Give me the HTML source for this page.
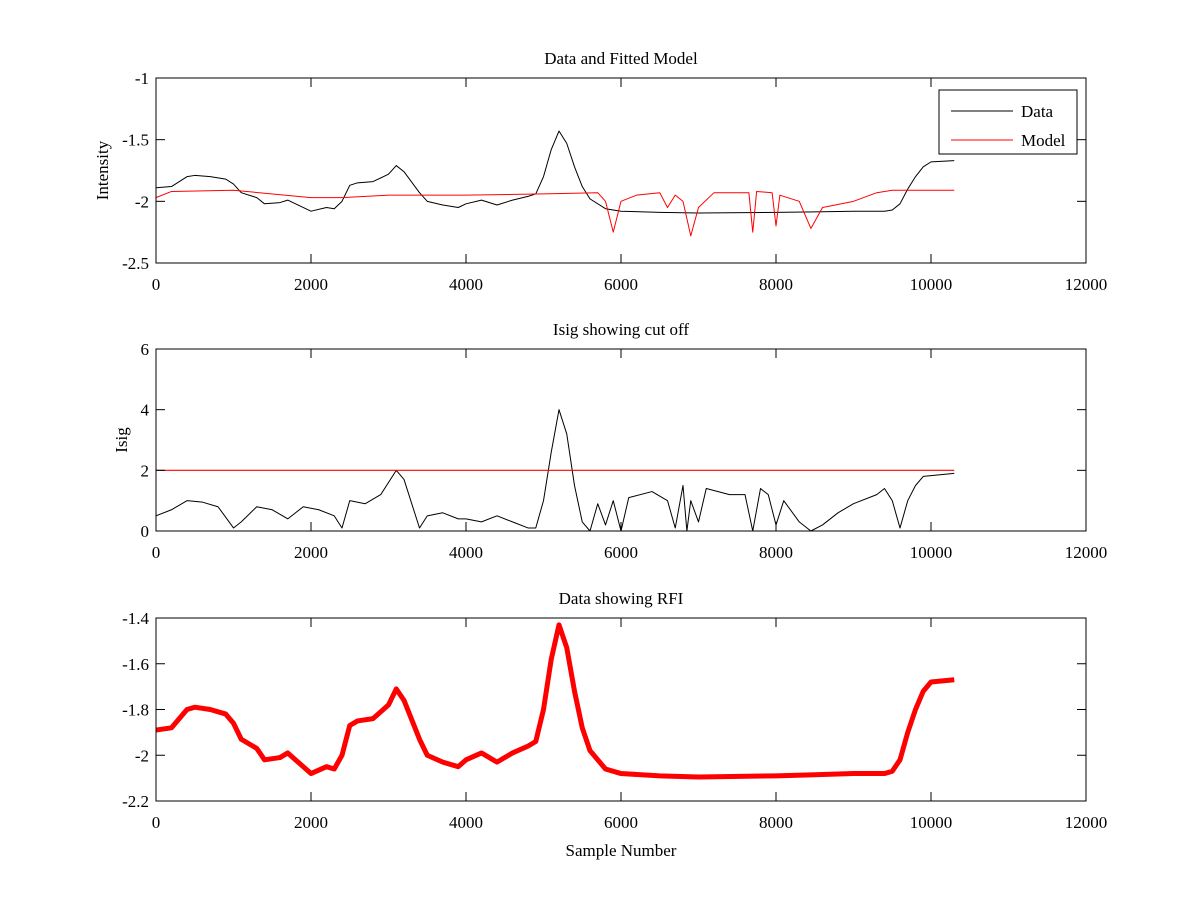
<!DOCTYPE html>
<html><head><meta charset="utf-8"><style>
body{margin:0;background:#fff}
svg text{font-family:"Liberation Serif",serif;font-size:17px;fill:#000}
</style></head><body>
<svg id="c" width="1200" height="900" xmlns="http://www.w3.org/2000/svg"></svg>
<script>
const dataX=[0,200,400,500,700,900,1000,1100,1300,1400,1600,1700,1800,2000,2200,2300,2400,2500,2600,2800,3000,3100,3200,3400,3500,3700,3900,4000,4200,4400,4600,4800,4900,5000,5100,5200,5300,5400,5500,5600,5800,6000,6500,7000,8000,8500,9000,9400,9500,9600,9700,9800,9900,10000,10300];
const dataY=[-1.89,-1.88,-1.80,-1.79,-1.80,-1.82,-1.86,-1.93,-1.97,-2.02,-2.01,-1.99,-2.02,-2.08,-2.05,-2.06,-2.00,-1.87,-1.85,-1.84,-1.78,-1.71,-1.76,-1.93,-2.00,-2.03,-2.05,-2.02,-1.99,-2.03,-1.99,-1.96,-1.94,-1.80,-1.58,-1.43,-1.53,-1.72,-1.88,-1.98,-2.06,-2.08,-2.09,-2.095,-2.09,-2.085,-2.08,-2.08,-2.07,-2.02,-1.90,-1.80,-1.72,-1.68,-1.67];
const modelX=[0,200,1000,2000,2400,3000,4000,5000,5700,5800,5900,6000,6200,6500,6600,6700,6800,6900,7000,7200,7650,7700,7750,7950,8000,8050,8300,8450,8600,9000,9300,9500,10300];
const modelY=[-1.97,-1.92,-1.91,-1.97,-1.97,-1.95,-1.95,-1.94,-1.93,-2.0,-2.25,-2.0,-1.95,-1.93,-2.05,-1.95,-2.0,-2.28,-2.05,-1.93,-1.93,-2.25,-1.92,-1.93,-2.2,-1.95,-2.0,-2.22,-2.05,-2.0,-1.93,-1.91,-1.91];
const isigX=[0,200,400,600,800,1000,1100,1300,1500,1700,1900,2100,2300,2400,2500,2700,2900,3100,3200,3400,3500,3700,3900,4000,4200,4400,4600,4800,4900,5000,5100,5200,5300,5400,5500,5600,5700,5800,5900,6000,6100,6400,6600,6700,6800,6850,6900,7000,7100,7400,7600,7700,7800,7900,8000,8100,8300,8450,8600,8800,9000,9300,9400,9500,9600,9700,9800,9900,10300];
const isigY=[0.5,0.7,1.0,0.95,0.8,0.1,0.3,0.8,0.7,0.4,0.8,0.7,0.5,0.1,1.0,0.9,1.2,2.0,1.7,0.1,0.5,0.6,0.4,0.4,0.3,0.5,0.3,0.1,0.1,1.0,2.6,4.0,3.2,1.5,0.3,0.0,0.9,0.2,1.0,0.0,1.1,1.3,1.0,0.1,1.5,0.0,1.0,0.3,1.4,1.2,1.2,0.0,1.4,1.2,0.2,1.0,0.3,0.0,0.2,0.6,0.9,1.2,1.4,1.0,0.1,1.0,1.5,1.8,1.9];
const cutX=[0,10300];const cutY=[2,2];
const xTicks=[0,2000,4000,6000,8000,10000,12000];
const y1Ticks=[-1,-1.5,-2,-2.5];
const y2Ticks=[0,2,4,6];
const y3Ticks=[-1.4,-1.6,-1.8,-2,-2.2];

const svg=document.getElementById('c');const NS='http://www.w3.org/2000/svg';
function mk(t,a,p){const e=document.createElementNS(NS,t);for(const k in a)e.setAttribute(k,a[k]);(p||svg).appendChild(e);return e;}
const L=156,R=1086;
const sx=v=>L+(v/12000)*(R-L);
function panel(name,top,bot,ymin,ymax,yTicks,title,ylab,ylx,series){
  const g=mk('g',{});
  
  
  const sy=v=>bot-(v-ymin)/(ymax-ymin)*(bot-top);
  series.forEach(s=>{
    const p=mk('polyline',{points:s.x.map((v,i)=>sx(v)+','+sy(s.y[i])).join(' '),fill:'none',stroke:s.c,'stroke-width':s.w,'stroke-linejoin':'round'},g);
    
    
  });
  mk('rect',{x:L,y:top,width:R-L,height:bot-top,fill:'none',stroke:'#000','stroke-width':1},g);
  xTicks.forEach(t=>{const x=sx(t);
    mk('line',{x1:x,x2:x,y1:bot,y2:bot-9,stroke:'#000'},g);
    mk('line',{x1:x,x2:x,y1:top,y2:top+9,stroke:'#000'},g);
    const tx=mk('text',{x:x,y:bot+27,'text-anchor':'middle'},g);tx.textContent=t;
    
    });
  yTicks.forEach(t=>{const y=sy(t);
    mk('line',{x1:L,x2:L+9,y1:y,y2:y,stroke:'#000'},g);
    mk('line',{x1:R,x2:R-9,y1:y,y2:y,stroke:'#000'},g);
    const tx=mk('text',{x:L-7,y:y+6,'text-anchor':'end'},g);tx.textContent=t;
    
    });
  const tt=mk('text',{x:(L+R)/2,y:top-14,'text-anchor':'middle'},g);tt.textContent=title;
  
  
  if(ylab){const yl=mk('text',{x:0,y:0,'text-anchor':'middle',transform:`translate(${ylx},${(top+bot)/2}) rotate(-90)`},g);yl.textContent=ylab;
    
    }
  return g;
}
panel('intensity-panel',78,263,-2.5,-1,y1Ticks,'Data and Fitted Model','Intensity',108,
 [{x:dataX,y:dataY,c:'#000',w:1,n:'data-line'},{x:modelX,y:modelY,c:'#f00',w:1,n:'model-line'}]);
panel('isig-panel',349,531,0,6,y2Ticks,'Isig showing cut off','Isig',127,
 [{x:isigX,y:isigY,c:'#000',w:1,n:'isig-line'},{x:cutX,y:cutY,c:'#f00',w:1.2,n:'cutoff-line'}]);
panel('rfi-panel',618,801,-2.2,-1.4,y3Ticks,'Data showing RFI','',0,
 [{x:dataX,y:dataY,c:'#f00',w:5,n:'rfi-data-line'}]);
const xl=mk('text',{x:621,y:856,'text-anchor':'middle'});xl.textContent='Sample Number';


const lg=mk('g',{});


mk('rect',{x:939,y:90,width:138,height:64,fill:'#fff',stroke:'#000'},lg);
mk('line',{x1:951,x2:1013,y1:111,y2:111,stroke:'#000'},lg);
mk('line',{x1:951,x2:1013,y1:140,y2:140,stroke:'#f00'},lg);
const t1=mk('text',{x:1021,y:117},lg);t1.textContent='Data';


const t2=mk('text',{x:1021,y:146},lg);t2.textContent='Model';


</script>
</body></html>
